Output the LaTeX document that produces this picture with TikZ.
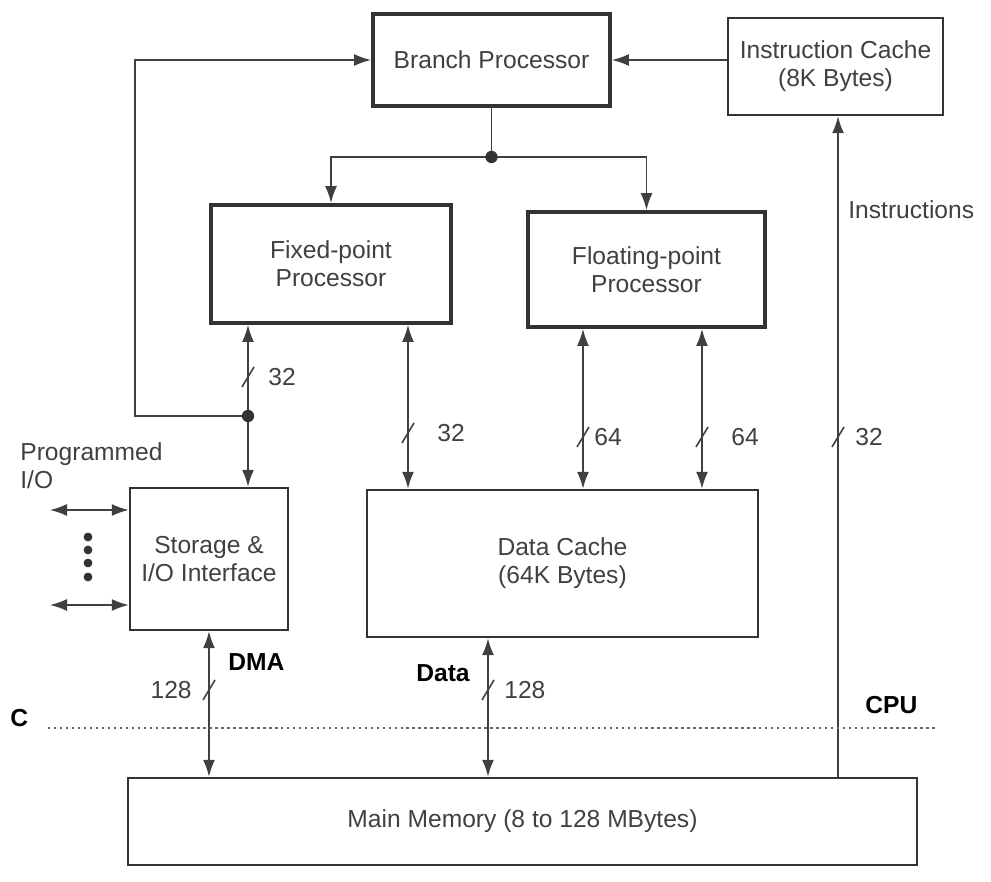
\documentclass[tikz,border=0pt]{standalone}
\usepackage{fontspec}
\setmainfont{Liberation Sans}
\usetikzlibrary{arrows.meta}

\begin{document}
\begin{tikzpicture}[x=0.2mm,y=-0.2mm,>={Latex[length=3.4mm,width=2.4mm]},
  every node/.style={font=\fontsize{14}{16}\selectfont,text=black!75},
  unit/.style={draw=black!80,line width=2.2pt,align=center,inner sep=0pt},
  box/.style={draw=black!80,line width=1.4pt,align=center,inner sep=0pt},
  bus/.style={draw=black!75,line width=0.9pt},
  width/.style={inner sep=0pt,anchor=west},
  tag/.style={inner sep=0pt,font=\fontsize{14}{16}\selectfont\bfseries,text=black}]
\useasboundingbox (0,0) rectangle (991,882);
\node[unit,minimum width=4.74cm,minimum height=1.84cm] (bp) at (491.5,60) {Branch Processor};
\node[box,minimum width=4.3cm,minimum height=1.94cm] (ic) at (835.5,66.5) {Instruction Cache\\(8K Bytes)};
\node[unit,minimum width=4.8cm,minimum height=2.36cm] (fxp) at (331,264) {Fixed-point\\Processor};
\node[unit,minimum width=4.74cm,minimum height=2.3cm] (flp) at (646.5,269.5) {Floating-point\\Processor};
\node[box,minimum width=3.16cm,minimum height=2.84cm] (sio) at (209,559) {Storage \&\\I/O Interface};
\node[box,minimum width=7.82cm,minimum height=2.94cm] (dc) at (562.5,563.5) {Data Cache\\(64K Bytes)};
\node[box,minimum width=15.78cm,minimum height=1.74cm] (mm) at (522.5,821.5) {Main Memory (8 to 128 MBytes)};
\coordinate (j1) at (248,416);
\coordinate (j2) at (491.5,157);
\coordinate (s1) at (248,377);
\coordinate (s2) at (408,433);
\coordinate (s3) at (583,437);
\coordinate (s4) at (702,437);
\coordinate (s5) at (838,437);
\coordinate (s6) at (209,690);
\coordinate (s7) at (488,690);
\coordinate (p1) at (50,510);
\coordinate (p2) at (50,605);
\coordinate (cut1) at (48,728);
\coordinate (cut2) at (935,728);
\draw[bus,->] (ic.west |- bp.east) -- (bp.east);
\draw[bus] (bp.south) -- (j2);
\draw[bus,->] (j2) -| (fxp.north);
\draw[bus,->] (j2) -| (flp.north);
\fill[black!80] (j2) circle (3.5pt);
\draw[bus,<->] (fxp.south -| j1) -- (sio.north -| j1);
\draw[bus,->] (j1) -- ++(-113,0) |- (bp.west);
\fill[black!80] (j1) circle (3.5pt);
\draw[bus,<->] (fxp.south -| s2) -- (dc.north -| s2);
\draw[bus,<->] (flp.south -| s3) -- (dc.north -| s3);
\draw[bus,<->] (flp.south -| s4) -- (dc.north -| s4);
\draw[bus,->] (mm.north -| s5) -- (ic.south -| s5);
\draw[bus,<->] (sio.south -| s6) -- (mm.north -| s6);
\draw[bus,<->] (dc.south -| s7) -- (mm.north -| s7);
\draw[bus,<->] (p1) -- (sio.west |- p1);
\draw[bus,<->] (p2) -- (sio.west |- p2);
\foreach \y in {537,550,563,577} \fill[black!80] (88,\y) circle (2.5pt);
\foreach \s in {s1,s2,s3,s4,s5,s6,s7} \draw[bus] ([shift={(-6,10)}]\s) -- ([shift={(6,-10)}]\s);
\draw[dotted,line width=1.4pt,black!60] (cut1) -- (cut2);
\node[width] (w1) at (268,377) {32};
\node[width] (w2) at (437,433) {32};
\node[width] (w3) at (594,437) {64};
\node[width] (w4) at (731,437) {64};
\node[width] (w5) at (855,437) {32};
\node[width,anchor=east] (w6) at (192,690) {128};
\node[width] (w7) at (504,690) {128};
\node[width] (instr) at (848,210) {Instructions};
\node[width,align=left] (progio) at (20,466) {Programmed\\I/O};
\node[tag,anchor=west] (dma) at (228,662) {DMA};
\node[tag,anchor=east] (data) at (470,673) {Data};
\node[tag,anchor=west] (cpu) at (865,705) {CPU};
\node[tag,anchor=west] (cmark) at (10,718) {C};
\end{tikzpicture}
\end{document}
